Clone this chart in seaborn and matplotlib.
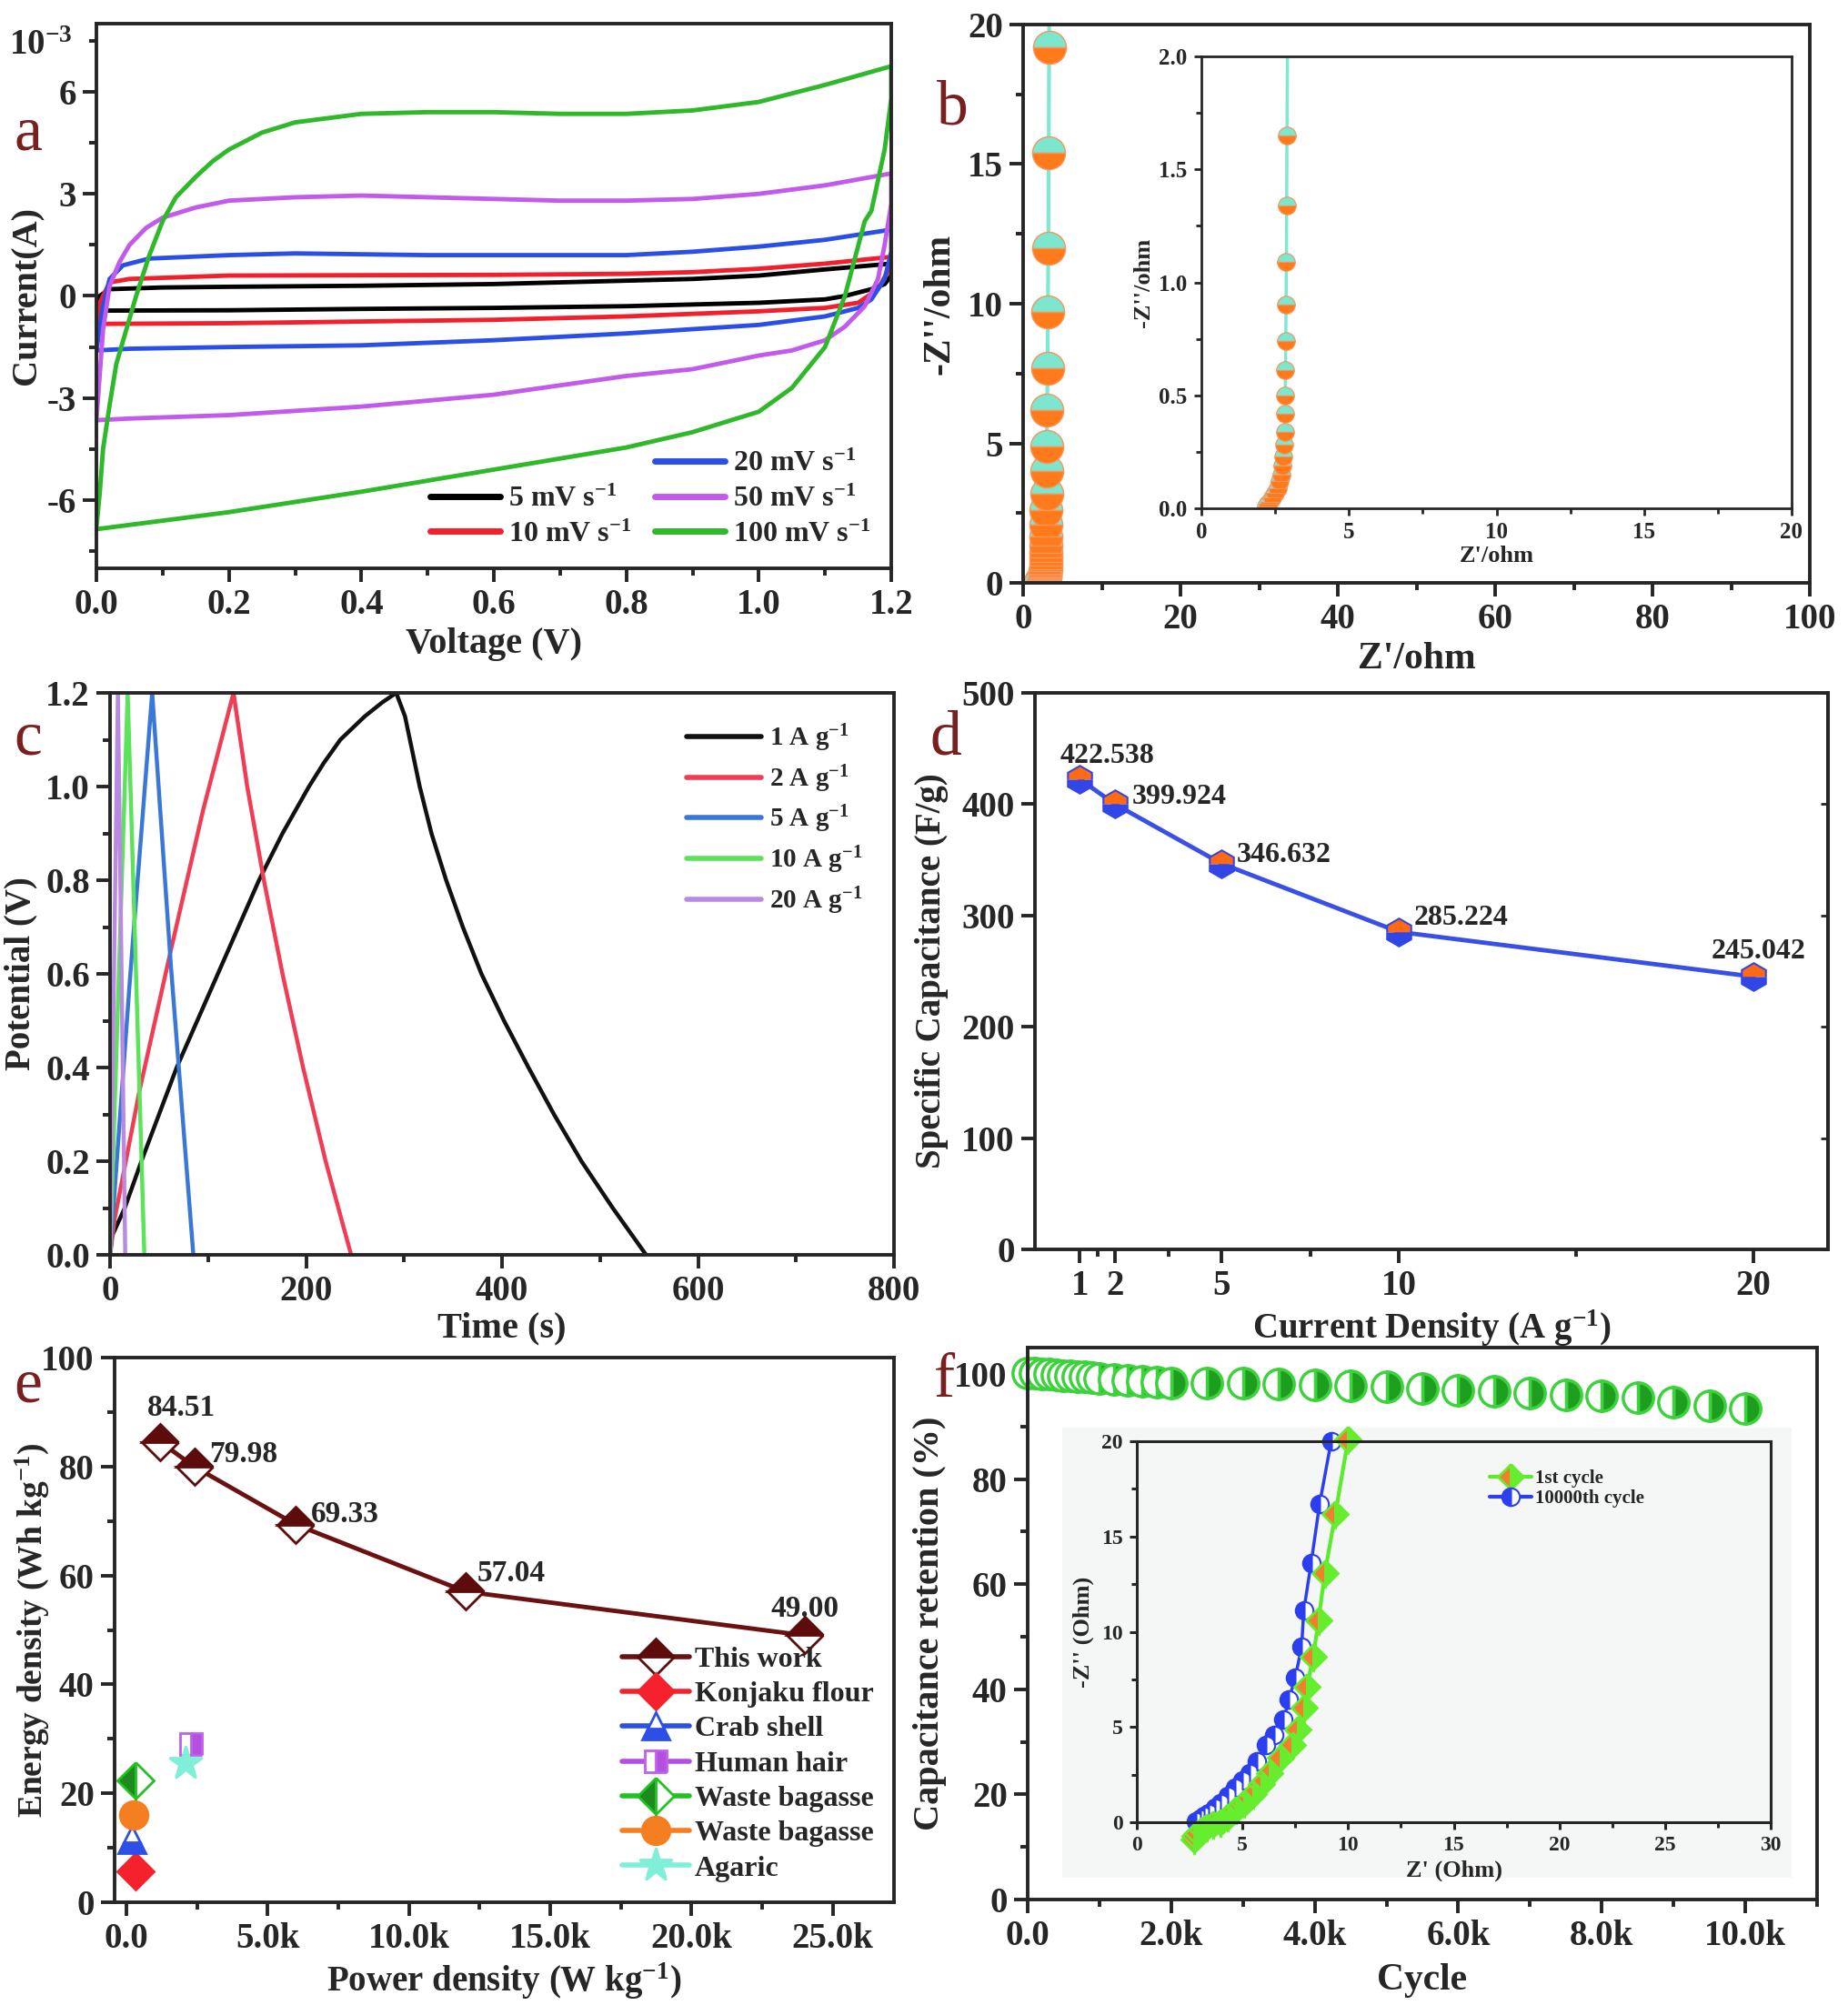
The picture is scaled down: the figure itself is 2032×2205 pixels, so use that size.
import numpy as np
import pandas as pd
import seaborn as sns
import matplotlib.pyplot as plt
from matplotlib.lines import Line2D
from matplotlib.ticker import MultipleLocator, FixedLocator, FuncFormatter

W, H = 2032, 2205

# ---- (a) CV curves, current in 1e-3 A ----
cv_rates = ["5 mV s$^{-1}$", "10 mV s$^{-1}$", "20 mV s$^{-1}$", "50 mV s$^{-1}$", "100 mV s$^{-1}$"]
cv_colors = ["#000000", "#F2202C", "#2A4FE8", "#C25BEB", "#2EB82A"]

v5 = [0, 0.005, 0.02, 0.1, 0.2, 0.4, 0.6, 0.8, 0.9, 1.0, 1.1, 1.2,
      1.2, 1.19, 1.17, 1.13, 1.1, 1.0, 0.8, 0.6, 0.4, 0.2, 0.0]
i5 = [-0.42, 0.0, 0.2, 0.25, 0.27, 0.3, 0.35, 0.45, 0.5, 0.6, 0.78, 0.95,
      0.6, 0.35, 0.2, 0.0, -0.1, -0.2, -0.3, -0.35, -0.38, -0.42, -0.43]
v10 = [0, 0.005, 0.02, 0.05, 0.2, 0.6, 0.8, 0.9, 1.0, 1.1, 1.2,
       1.2, 1.18, 1.15, 1.1, 1.0, 0.8, 0.6, 0.4, 0.2, 0.0]
i10 = [-0.85, -0.2, 0.4, 0.5, 0.6, 0.62, 0.65, 0.7, 0.8, 0.95, 1.15,
       0.9, 0.2, -0.2, -0.35, -0.45, -0.6, -0.7, -0.75, -0.8, -0.82]
v20 = [0, 0.01, 0.02, 0.04, 0.08, 0.2, 0.3, 0.5, 0.8, 0.9, 1.0, 1.1, 1.2,
       1.2, 1.19, 1.17, 1.15, 1.1, 1.0, 0.8, 0.6, 0.4, 0.2, 0.05, 0.0]
i20 = [-1.6, -0.3, 0.5, 0.9, 1.1, 1.2, 1.25, 1.2, 1.2, 1.3, 1.45, 1.65, 1.95,
       1.3, 0.5, -0.1, -0.35, -0.6, -0.85, -1.1, -1.3, -1.45, -1.5, -1.55, -1.6]
v50 = [0, 0.01, 0.02, 0.035, 0.05, 0.075, 0.1, 0.15, 0.2, 0.3, 0.4, 0.5, 0.6, 0.7, 0.8, 0.9, 1.0, 1.1, 1.2,
       1.2, 1.19, 1.18, 1.16, 1.13, 1.1, 1.05, 1.0, 0.9, 0.8, 0.6, 0.4, 0.2, 0.05, 0.0]
i50 = [-3.65, -1.0, 0.3, 1.0, 1.5, 2.0, 2.3, 2.6, 2.8, 2.9, 2.95, 2.9, 2.85, 2.8, 2.8, 2.85, 3.0, 3.25, 3.6,
       2.7, 1.5, 0.5, -0.3, -0.9, -1.3, -1.6, -1.75, -2.15, -2.35, -2.9, -3.25, -3.5, -3.6, -3.65]
v100 = [0, 0.005, 0.01, 0.02, 0.03, 0.045, 0.06, 0.08, 0.1, 0.12, 0.15, 0.175, 0.2, 0.25, 0.3, 0.4, 0.5,
        0.6, 0.7, 0.8, 0.9, 1.0, 1.1, 1.2,
        1.2, 1.19, 1.17, 1.16, 1.13, 1.1, 1.05, 1.0, 0.9, 0.8, 0.6, 0.4, 0.2, 0.1, 0.0]
i100 = [-6.8, -5.8, -4.5, -3.2, -2.0, -1.0, 0.0, 1.2, 2.2, 2.9, 3.5, 3.95, 4.3, 4.8, 5.1, 5.35, 5.4,
        5.4, 5.35, 5.35, 5.45, 5.7, 6.2, 6.75,
        5.8, 4.3, 2.5, 2.2, 0.0, -1.5, -2.7, -3.4, -4.0, -4.45, -5.1, -5.75, -6.35, -6.6, -6.85]

# ---- (b) Nyquist ----
z_re = [3.35, 3.3, 3.25, 3.2, 3.15, 3.1, 3.05, 3.0, 2.98, 2.96, 2.94, 2.92, 2.9, 2.89, 2.88, 2.87,
        2.86, 2.85, 2.84, 2.83, 2.82, 2.8, 2.78, 2.75, 2.7, 2.65, 2.6, 2.5, 2.4, 2.3, 2.25, 2.2]
z_im = [24.0, 19.2, 15.4, 12.0, 9.7, 7.7, 6.2, 4.9, 4.0, 3.2, 2.6, 2.1, 1.65, 1.34, 1.09, 0.90,
        0.74, 0.61, 0.50, 0.42, 0.34, 0.28, 0.23, 0.19, 0.15, 0.12, 0.09, 0.07, 0.05, 0.03, 0.02, 0.01]

# ---- (c) GCD ----
gcd_labels = ["1 A g$^{-1}$", "2 A g$^{-1}$", "5 A g$^{-1}$", "10 A g$^{-1}$", "20 A g$^{-1}$"]
gcd_colors = ["#111111", "#F03C55", "#3A78D8", "#5BE35B", "#B88BE0"]
t1 = [0, 2, 15, 32, 50, 68, 89, 110, 131, 152, 176, 203, 218, 235, 260, 278, 292,
      301, 316, 328, 343, 360, 379, 402, 427, 453, 481, 513, 547]
p1 = [0, 0.04, 0.1, 0.2, 0.3, 0.4, 0.5, 0.6, 0.7, 0.8, 0.9, 1.0, 1.05, 1.1, 1.15, 1.18, 1.2,
      1.15, 1.0, 0.9, 0.8, 0.7, 0.6, 0.5, 0.4, 0.3, 0.2, 0.1, 0.0]
t2 = [0, 5, 30, 62, 95, 126, 140, 157, 176, 197, 220, 246]
p2 = [0, 0.08, 0.35, 0.65, 0.95, 1.2, 1.0, 0.8, 0.6, 0.4, 0.2, 0.0]
t5 = [0, 20, 43, 62, 85]
p5 = [0, 0.58, 1.2, 0.62, 0]
t10 = [0, 18, 35]
p10 = [0, 1.2, 0]
t20 = [0, 8, 15.5]
p20 = [0, 1.2, 0]

# ---- (d) rate capability ----
cur_density = [1, 2, 5, 10, 20]
spec_cap = [422.538, 399.924, 346.632, 285.224, 245.042]

# ---- (e) Ragone ----
this_power = [1200, 2400, 6000, 12000, 24000]
this_energy = [84.51, 79.98, 69.33, 57.04, 49.00]
ref_names = ["Konjaku flour", "Crab shell", "Human hair", "Waste bagasse", "Waste bagasse", "Agaric"]
ref_power = [310, 200, 2290, 310, 250, 2080]
ref_energy = [5.6, 11.5, 29.0, 22.3, 16.0, 25.6]

# ---- (f) cycling ----
cycles = [0, 100, 200, 300, 400, 500, 600, 700, 800, 900, 1000, 1200, 1400, 1600, 1800, 2000,
          2500, 3000, 3500, 4000, 4500, 5000, 5500, 6000, 6500, 7000, 7500, 8000, 8500, 9000, 9500, 10000]
retention = [100.2, 100.1, 100.0, 99.9, 99.8, 99.7, 99.6, 99.5, 99.4, 99.3, 99.2, 99.0, 98.8, 98.6, 98.5, 98.3,
             98.3, 98.2, 98.1, 97.9, 97.7, 97.5, 97.3, 96.9, 96.7, 96.3, 96.0, 95.9, 95.5, 94.6, 94.0, 93.4]
c1_re = [2.7, 2.76, 2.9, 3.1, 3.3, 3.6, 3.95, 4.3, 4.7, 5.1, 5.5, 5.9, 6.3, 6.8, 7.35, 7.6, 7.9, 8.05, 8.35, 8.6, 8.9, 9.4, 10.0]
c1_im = [-0.9, -0.73, -0.55, -0.4, -0.25, -0.1, 0.0, 0.3, 0.65, 0.98, 1.5, 2.0, 2.6, 3.4, 4.05, 4.85, 6.0, 7.1, 8.7, 10.6, 13.1, 16.2, 20.1]
c2_re = [2.8, 3.0, 3.2, 3.4, 3.7, 3.95, 4.3, 4.65, 5.0, 5.35, 5.7, 6.1, 6.5, 6.95, 7.2, 7.5, 7.8, 7.9, 8.25, 8.65, 9.2]
c2_im = [0.07, 0.2, 0.35, 0.5, 0.75, 1.0, 1.4, 1.8, 2.2, 2.6, 3.2, 4.05, 4.6, 5.4, 6.45, 7.6, 9.2, 11.1, 13.6, 16.7, 20.0]

sns.set_style("ticks")
plt.rcParams.update({
    "font.family": ["Liberation Serif", "DejaVu Serif"],
    "font.weight": "bold",
    "axes.labelweight": "bold",
    "mathtext.default": "regular",
    "axes.unicode_minus": False,
    "axes.linewidth": 3,
})

fig = plt.figure(figsize=(W / 100, H / 100), dpi=100)


def box(l, t, r, b):
    return [l / W, 1 - b / H, (r - l) / W, (b - t) / H]


def style(ax, fs=28, major=11, minor=6, lw=2.8):
    for s in ax.spines.values():
        s.set_linewidth(lw)
    ax.tick_params(which="major", direction="out", length=major, width=lw, labelsize=fs, pad=5)
    ax.tick_params(which="minor", direction="out", length=minor, width=lw)
    for lab in ax.get_xticklabels() + ax.get_yticklabels():
        lab.set_fontweight("bold")


LETTER = dict(color="#7A1F1F", fontsize=50, fontweight="normal", ha="center", va="center")
LAB = 28

# ===== (a) =====
ax = fig.add_axes(box(106, 26, 980, 625))
cv_v = [v5, v10, v20, v50, v100]
cv_i = [i5, i10, i20, i50, i100]
handles = []
for v, i, c, lab in zip(cv_v, cv_i, cv_colors, cv_rates):
    sns.lineplot(x=v, y=i, sort=False, estimator=None, color=c, lw=3.5, ax=ax, legend=False)
    handles.append(Line2D([], [], color=c, lw=5))
ax.set_xlim(0, 1.2)
ax.set_ylim(-8, 8)
ax.xaxis.set_major_locator(MultipleLocator(0.2))
ax.xaxis.set_minor_locator(MultipleLocator(0.1))
ax.yaxis.set_major_locator(MultipleLocator(3))
ax.yaxis.set_minor_locator(MultipleLocator(1.5))
ax.xaxis.set_major_formatter(FuncFormatter(lambda x, p: f"{x:.1f}"))
ax.yaxis.set_major_formatter(FuncFormatter(lambda y, p: f"{y:.0f}"))
ax.set_xlabel("Voltage (V)", fontsize=LAB + 1, labelpad=4)
ax.set_ylabel("Current(A)", fontsize=LAB + 1, labelpad=2)
style(ax)
blank = Line2D([], [], color="none")
ax.legend([blank] + handles, [""] + cv_rates, ncol=2, loc="lower right", frameon=False,
          fontsize=23, handlelength=2.4, columnspacing=0.8, labelspacing=0.3,
          borderaxespad=0.3, handletextpad=0.3)
fig.text(45 / W, 1 - 50 / H, "10$^{-3}$", fontsize=28, fontweight="bold", ha="center", va="center")
fig.text(31 / W, 1 - 148 / H, "a", **LETTER)

# ===== (b) =====
ax = fig.add_axes(box(1125, 27, 1990, 641))
sns.lineplot(x=z_re, y=z_im, sort=False, estimator=None, color="#7FE8D0", lw=3, ax=ax, legend=False)
ax.plot(z_re, z_im, "o", ms=26, fillstyle="top", mfc="#7DE6CF", mfcalt="#FF7A1A", mec="#F7955A", mew=1)
ax.set_xlim(0, 100)
ax.set_ylim(0, 20)
ax.xaxis.set_major_locator(MultipleLocator(20))
ax.xaxis.set_minor_locator(MultipleLocator(10))
ax.yaxis.set_major_locator(MultipleLocator(5))
ax.yaxis.set_minor_locator(MultipleLocator(2.5))
ax.set_xlabel("Z'/ohm", fontsize=LAB + 2, labelpad=4)
ax.set_ylabel("-Z''/ohm", fontsize=LAB + 2, labelpad=8)
style(ax)
fig.text(1047 / W, 1 - 120 / H, "b", **LETTER)

axi = fig.add_axes(box(1321, 62, 1970, 559))
sns.lineplot(x=z_re, y=z_im, sort=False, estimator=None, color="#7FE8D0", lw=2.5, ax=axi, legend=False)
axi.plot(z_re, z_im, "o", ms=14, fillstyle="top", mfc="#7DE6CF", mfcalt="#FF7A1A", mec="#F7955A", mew=0.8)
axi.set_xlim(0, 20)
axi.set_ylim(0, 2.0)
axi.xaxis.set_major_locator(MultipleLocator(5))
axi.xaxis.set_minor_locator(MultipleLocator(2.5))
axi.yaxis.set_major_locator(MultipleLocator(0.5))
axi.yaxis.set_minor_locator(MultipleLocator(0.25))
axi.xaxis.set_major_formatter(FuncFormatter(lambda x, p: f"{x:.0f}"))
axi.yaxis.set_major_formatter(FuncFormatter(lambda y, p: f"{y:.1f}"))
axi.set_xlabel("Z'/ohm", fontsize=19, labelpad=2)
axi.set_ylabel("-Z''/ohm", fontsize=19, labelpad=4)
style(axi, fs=18, major=6, minor=4, lw=2)

# ===== (c) =====
ax = fig.add_axes(box(121, 762, 983, 1380))
gcd_t = [t1, t2, t5, t10, t20]
gcd_p = [p1, p2, p5, p10, p20]
for t, p, c, lab in zip(gcd_t, gcd_p, gcd_colors, gcd_labels):
    sns.lineplot(x=t, y=p, sort=False, estimator=None, color=c, lw=3.2, ax=ax, label=lab)
ax.set_xlim(0, 800)
ax.set_ylim(0, 1.2)
ax.xaxis.set_major_locator(MultipleLocator(200))
ax.xaxis.set_minor_locator(MultipleLocator(100))
ax.yaxis.set_major_locator(MultipleLocator(0.2))
ax.yaxis.set_minor_locator(MultipleLocator(0.1))
ax.yaxis.set_major_formatter(FuncFormatter(lambda y, p: f"{y:.1f}"))
ax.set_xlabel("Time (s)", fontsize=LAB + 1, labelpad=2)
ax.set_ylabel("Potential (V)", fontsize=LAB, labelpad=6)
style(ax)
ax.legend(loc="upper right", bbox_to_anchor=(0.99, 0.99), frameon=False, fontsize=21,
          handlelength=2.8, labelspacing=0.35, handletextpad=0.3)
for ln in ax.get_legend().get_lines():
    ln.set_linewidth(4)
fig.text(31 / W, 1 - 813 / H, "c", **LETTER)

# ===== (d) =====
ax = fig.add_axes(box(1138, 762, 2010, 1374))
sns.lineplot(x=cur_density, y=spec_cap, color="#3A4FE8", lw=3.5, ax=ax, legend=False)
ax.plot(cur_density, spec_cap, "h", ms=22, fillstyle="top", mfc="#FF6A13", mfcalt="#3246E6",
        mec="#3246E6", mew=1.5)
offs = [((22, 18), "center"), ((13, 6), "left"), ((12, 7), "left"), ((12, 11), "left"), ((4, 20), "center")]
for xv, yv, (o, ha) in zip(cur_density, spec_cap, offs):
    ax.annotate(f"{yv:.3f}", (xv, yv), xytext=o, textcoords="offset points", ha=ha, va="center",
                fontsize=23, fontweight="bold")
ax.set_xlim(-0.26, 22.1)
ax.set_ylim(0, 500)
ax.xaxis.set_major_locator(FixedLocator(cur_density))
ax.xaxis.set_minor_locator(FixedLocator([1.5, 3.5, 7.5, 15]))
ax.yaxis.set_major_locator(MultipleLocator(100))
ax.set_xlabel("Current Density (A g$^{-1}$)", fontsize=LAB, labelpad=4)
ax.set_ylabel("Specific Capacitance (F/g)", fontsize=LAB, labelpad=10)
style(ax)
sec = ax.secondary_yaxis("right")
sec.tick_params(direction="in", length=6, width=2, labelright=False)
sec.spines["right"].set_linewidth(2.8)
fig.text(1040 / W, 1 - 813 / H, "d", **LETTER)

# ===== (e) =====
ax = fig.add_axes(box(126, 1493, 983, 2092))
maroon = "#5E0B0B"
sns.lineplot(x=this_power, y=this_energy, color="#6B1111", lw=3.5, ax=ax, legend=False)
ax.plot(this_power, this_energy, "D", ms=20, fillstyle="top", mfc=maroon, mfcalt="white", mec=maroon, mew=2)
e_offs = [((17, 27), "center"), ((12, 10), "left"), ((12, 8), "left"), ((9, 14), "left"), ((0, 21), "center")]
for xv, yv, (o, ha) in zip(this_power, this_energy, e_offs):
    ax.annotate(f"{yv:.2f}", (xv, yv), xytext=o, textcoords="offset points", ha=ha, va="center",
                fontsize=24, fontweight="bold")
ref_styles = [
    dict(marker="D", color="#F5222D", mfc="#F5222D", mec="#F5222D", fillstyle="full", ms=20),
    dict(marker="^", color="#2D4FE8", mfc="#2D4FE8", mfcalt="white", mec="#2D4FE8", fillstyle="bottom", ms=22),
    dict(marker="s", color="#B44FE0", mfc="#B44FE0", mfcalt="white", mec="#C060E8", fillstyle="right", ms=17),
    dict(marker="D", color="#22C022", mfc="#1C8A1C", mfcalt="white", mec="#22C022", fillstyle="left", ms=20),
    dict(marker="o", color="#F57F20", mfc="#F57F20", mec="#F57F20", fillstyle="full", ms=22),
    dict(marker="*", color="#7FEFD8", mfc="#7FEFD8", mec="#7FEFD8", fillstyle="full", ms=28),
]
leg_h = [Line2D([], [], color="#6B1111", lw=4, marker="D", ms=20, fillstyle="top", mfc=maroon,
                mfcalt="white", mec=maroon, mew=2)]
for xv, yv, st in zip(ref_power, ref_energy, ref_styles):
    kw = {k: v for k, v in st.items() if k != "color"}
    ax.plot([xv], [yv], ls="none", mew=2, **kw)
    leg_h.append(Line2D([], [], lw=4, mew=2, **st))
ax.set_xlim(-420, 27170)
ax.set_ylim(0, 100)
ax.xaxis.set_major_locator(MultipleLocator(5000))
ax.xaxis.set_minor_locator(MultipleLocator(2500))
ax.yaxis.set_major_locator(MultipleLocator(20))
ax.yaxis.set_minor_locator(MultipleLocator(10))
ax.xaxis.set_major_formatter(FuncFormatter(lambda x, p: "0.0" if x == 0 else f"{x / 1000:.1f}k"))
ax.set_xlabel("Power density (W kg$^{-1}$)", fontsize=LAB, labelpad=4)
ax.set_ylabel("Energy density (Wh kg$^{-1}$)", fontsize=LAB - 1)
ax.yaxis.set_label_coords(-0.082, 0.5)
style(ax)
ax.legend(leg_h, ["This work"] + ref_names, loc="lower right", bbox_to_anchor=(1.0, 0.0),
          frameon=False, fontsize=23, handlelength=2.3, labelspacing=0.28, handletextpad=0.2,
          borderaxespad=0.3)
fig.text(31 / W, 1 - 1525 / H, "e", **LETTER)

# ===== (f) =====
ax = fig.add_axes(box(1130, 1482, 1998, 2089))
ax.plot(cycles, retention, "o", ms=24, fillstyle="right", mfc="#1E9E1E", mfcalt="white", mec="#3CD23C",
        mew=2.5, clip_on=False)
ax.set_xlim(0, 11000)
ax.set_ylim(0, 105)
ax.xaxis.set_major_locator(MultipleLocator(2000))
ax.xaxis.set_minor_locator(MultipleLocator(1000))
ax.yaxis.set_major_locator(MultipleLocator(20))
ax.yaxis.set_minor_locator(MultipleLocator(10))
ax.xaxis.set_major_formatter(FuncFormatter(lambda x, p: "0.0" if x == 0 else f"{x / 1000:.1f}k"))
ax.set_xlabel("Cycle", fontsize=LAB + 2, labelpad=8)
ax.set_ylabel("Capacitance retention (%)", fontsize=LAB + 1, labelpad=6)
style(ax)
fig.text(1038 / W, 1 - 1519 / H, "f", **LETTER)

bg = fig.add_axes(box(1168, 1570, 1970, 2065))
bg.set_facecolor("#F5F6F6")
bg.set_xticks([])
bg.set_yticks([])
for s in bg.spines.values():
    s.set_visible(False)

axi = fig.add_axes(box(1250, 1585, 1947, 2004))
axi.set_facecolor("#F5F6F6")
sns.lineplot(x=c1_re, y=c1_im, sort=False, estimator=None, color="#5CEB2A", lw=3, ax=axi, legend=False)
sns.lineplot(x=c2_re, y=c2_im, sort=False, estimator=None, color="#2B3FF0", lw=2.5, ax=axi, legend=False)
axi.plot(c2_re, c2_im, "o", ms=14, fillstyle="left", mfc="#2B3FF0", mfcalt="white", mec="#2B3FF0",
         mew=1.5, clip_on=False)
axi.plot(c1_re, c1_im, "D", ms=14, fillstyle="left", mfc="#F27E2E", mfcalt="#66EE2E", mec="#66EE2E",
         mew=2, clip_on=False)
axi.set_xlim(0, 30)
axi.set_ylim(0, 20)
axi.xaxis.set_major_locator(MultipleLocator(5))
axi.xaxis.set_minor_locator(MultipleLocator(2.5))
axi.yaxis.set_major_locator(MultipleLocator(5))
axi.yaxis.set_minor_locator(MultipleLocator(2.5))
axi.set_xlabel("Z' (Ohm)", fontsize=19, labelpad=4)
axi.set_ylabel("-Z'' (Ohm)", fontsize=19, labelpad=6)
style(axi, fs=17, major=6, minor=4, lw=2.2)
h1 = Line2D([], [], color="#5CEB2A", lw=3, marker="D", ms=14, fillstyle="left", mfc="#F27E2E",
            mfcalt="#66EE2E", mec="#66EE2E", mew=2)
h2 = Line2D([], [], color="#2B3FF0", lw=3, marker="o", ms=14, fillstyle="left", mfc="#2B3FF0",
            mfcalt="white", mec="#2B3FF0", mew=1.5)
axi.legend([h1, h2], ["1st cycle", "10000th cycle"], loc="upper left", bbox_to_anchor=(0.53, 0.97),
           frameon=False, fontsize=15, handlelength=2.2, labelspacing=0.1, handletextpad=0.2)

fig.savefig("out.png", dpi=100)
